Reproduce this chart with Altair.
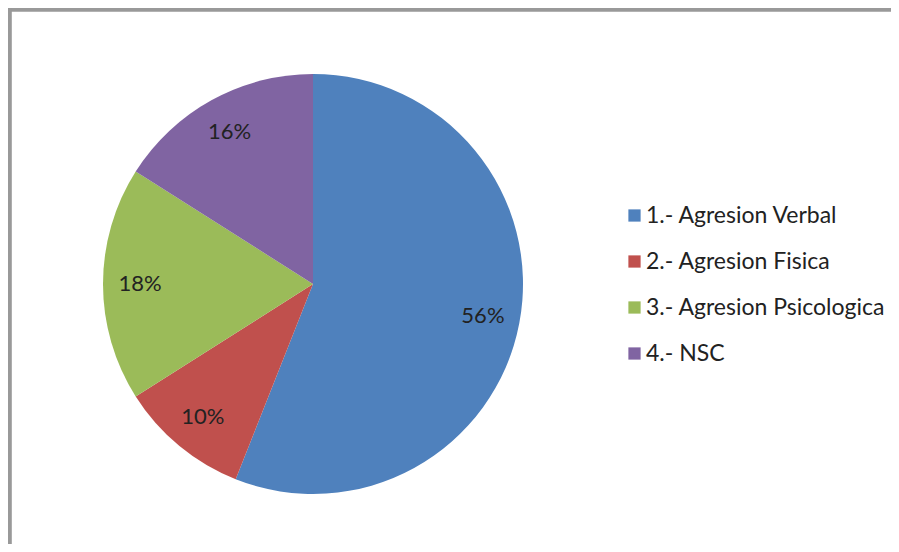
import altair as alt
import pandas as pd

categories = ["1.- Agresion Verbal", "2.- Agresion Fisica", "3.- Agresion Psicologica", "4.- NSC"]
values = [56, 10, 18, 16]
labels = ["56%", "10%", "18%", "16%"]
colors = ["#4F81BD", "#C0504D", "#9BBB59", "#8064A2"]

df = pd.DataFrame({"cat": categories, "val": values, "lab": labels, "ord": list(range(len(values)))})

W, H = 883, 536
cx, cy = 305, 276
FONT = "Lato"

base = alt.Chart(df).encode(
    theta=alt.Theta("val:Q", stack=True),
    order=alt.Order("ord:Q", sort="ascending"),
)

pie = base.mark_arc(strokeWidth=0).encode(
    color=alt.Color(
        "cat:N",
        scale=alt.Scale(domain=categories, range=colors),
        sort=categories,
        legend=alt.Legend(
            title=None,
            orient="none",
            legendX=615,
            legendY=196,
            symbolType="square",
            symbolSize=150,
            symbolStrokeWidth=0,
            labelFont=FONT,
            labelFontSize=23,
            labelColor="#222222",
            labelLimit=400,
            rowPadding=22,
            labelOffset=0,
        ),
    ),
    x=alt.value(cx),
    y=alt.value(cy),
    radius=alt.value(210),
)

text = base.mark_text(font=FONT, fontSize=22, color="#222222").encode(
    text="lab:N",
    x=alt.value(cx),
    y=alt.value(cy),
    radius=alt.value(173),
)

border_df = pd.DataFrame({"a": [0]})
top_line = alt.Chart(border_df).mark_rule(color="#999999", strokeWidth=4).encode(
    x=alt.value(0), x2=alt.value(W + 10), y=alt.value(1.8)
)
left_line = alt.Chart(border_df).mark_rule(color="#999999", strokeWidth=4).encode(
    x=alt.value(1.8), y=alt.value(0), y2=alt.value(H + 10)
)

chart = alt.layer(pie, text, top_line, left_line).properties(
    width=W, height=H, padding=0,
    autosize=alt.AutoSizeParams(type="none"),
    background="white",
).configure_view(strokeWidth=0)

chart.save("out.html", embed_options={"renderer": "svg", "actions": False})
